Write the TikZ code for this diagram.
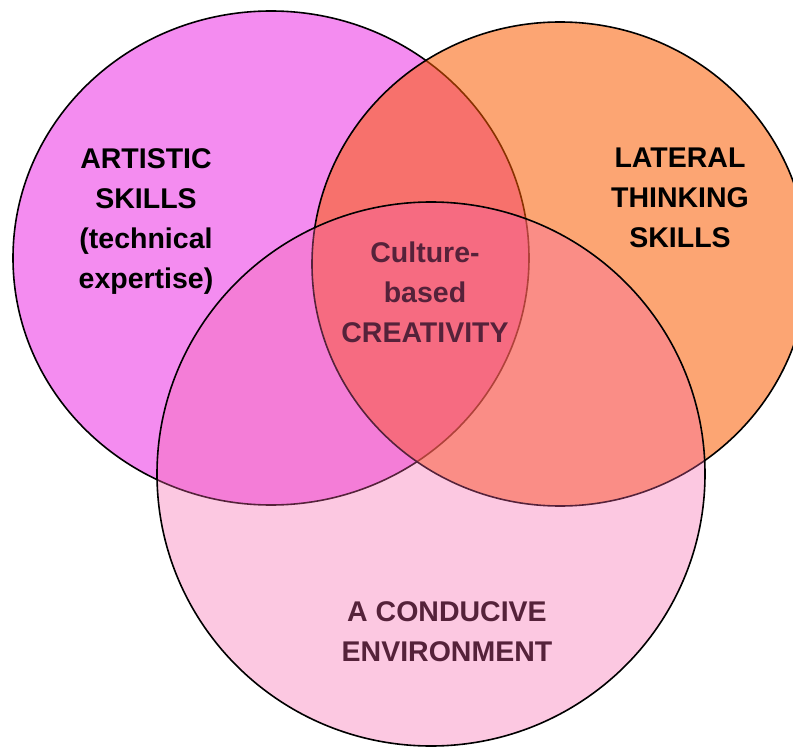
\documentclass[tikz,border=0pt]{standalone}
\usepackage{fontspec}
\setmainfont{Liberation Sans}
\definecolor{artpink}{RGB}{244,140,240}
\definecolor{lateralorange}{RGB}{250,91,0}
\definecolor{conducivepink}{RGB}{246,98,169}
\begin{document}
\begin{tikzpicture}[x=1pt,y=-1pt,
    ring/.style={draw=black,line width=1.6pt},
    venntext/.style={font=\fontsize{28.5}{40}\selectfont\bfseries,align=center,inner sep=0pt}]
    \clip (0,0) rectangle (793,749);
    % artistic skills
    \filldraw [ring,fill=artpink] (271,258) ellipse [x radius=258pt,y radius=247pt];
    \node [venntext] (artistic) at (146,222) {ARTISTIC\\SKILLS\\(technical\\expertise)};
    % lateral thinking
    \filldraw [ring,fill=lateralorange,fill opacity=0.55] (560,264) ellipse [x radius=248pt,y radius=242pt];
    \node [venntext] (lateral) at (680,198) {LATERAL\\THINKING\\SKILLS};
    % these two sit under the last ring
    \node [venntext] (creativity) at (425,292) {Culture-\\based\\CREATIVITY};
    \node [venntext] (conducive) at (447,632) {A CONDUCIVE\\ENVIRONMENT};
    \filldraw [ring,fill=conducivepink,fill opacity=0.35] (431,474) ellipse [x radius=274pt,y radius=272pt];
\end{tikzpicture}
\end{document}
